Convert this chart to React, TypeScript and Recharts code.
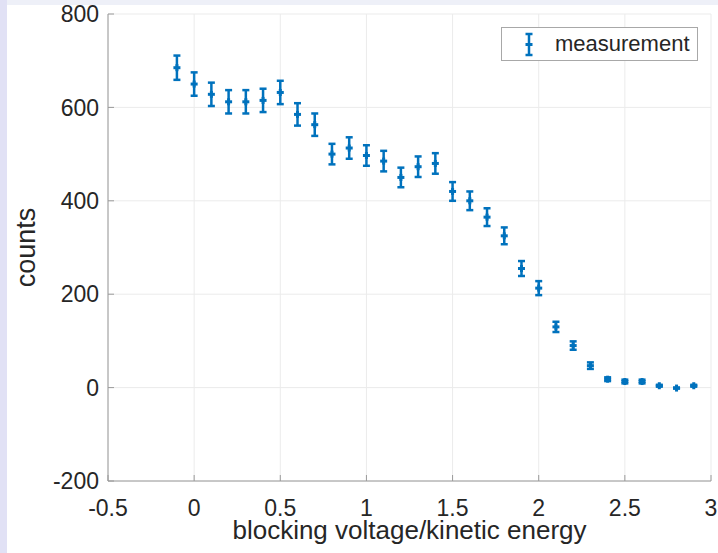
import { ScatterChart, Scatter, XAxis, YAxis, CartesianGrid, ErrorBar, Legend } from "recharts"

const voltage = [
  -0.1, 0, 0.1, 0.2, 0.3, 0.4, 0.5, 0.6, 0.7, 0.8, 0.9, 1.0, 1.1, 1.2, 1.3, 1.4,
  1.5, 1.6, 1.7, 1.8, 1.9, 2.0, 2.1, 2.2, 2.3, 2.4, 2.5, 2.6, 2.7, 2.8, 2.9,
]
const counts = [
  685, 650, 628, 612, 612, 615, 632, 585, 563, 500, 513, 497, 485, 450, 473, 480,
  420, 400, 365, 325, 255, 213, 130, 90, 47, 18, 13, 13, 4, -1, 4,
]
const errors = [
  26, 25, 25, 25, 25, 25, 25, 24, 24, 22, 23, 22, 22, 21, 22, 22,
  20, 20, 19, 18, 16, 15, 11, 9, 7, 4, 4, 4, 2, 1, 2,
]
const xTicks = [-0.5, 0, 0.5, 1, 1.5, 2, 2.5, 3]
const yTicks = [-200, 0, 200, 400, 600, 800]

const data = voltage.map((v, i) => ({ v, c: counts[i], err: errors[i] }))

const BLUE = "#0072BD"
const TEXT = "#262626"
const FONT = "'Liberation Sans', Arial, sans-serif"

const Marker = (props: any) => {
  const { cx, cy } = props
  if (cx == null || cy == null) return <g />
  return (
    <g fill={BLUE}>
      <rect x={cx - 3.5} y={cy - 1.5} width={7} height={3} />
      <rect x={cx - 1.5} y={cy - 3.5} width={3} height={7} />
    </g>
  )
}

const LegendBox = () => (
  <div
    style={{
      width: 195,
      height: 32,
      border: "1px solid #a8a8a8",
      background: "#fff",
      display: "flex",
      alignItems: "center",
      fontFamily: FONT,
      fontSize: 22,
      color: TEXT,
    }}
  >
    <svg width={52} height={32}>
      <g stroke={BLUE} strokeWidth={2.5}>
        <line x1={27} y1={6} x2={27} y2={27} />
        <line x1={23.5} y1={6} x2={30.5} y2={6} />
        <line x1={23.5} y1={27} x2={30.5} y2={27} />
      </g>
      <rect x={23.5} y={15} width={7} height={3} fill={BLUE} />
    </svg>
    <span style={{ marginLeft: 1 }}>measurement</span>
  </div>
)

export default function App() {
  return (
    <div style={{ position: "absolute", left: 0, top: 0, width: 718, height: 553, background: "#eef0f8" }}>
      <div style={{ position: "absolute", left: 0, top: 0, width: 7, height: 553, background: "#e1e1f5" }} />
      <div style={{ position: "absolute", left: 7, top: 5, width: 711, height: 548, background: "#fff" }} />
      <div style={{ position: "absolute", left: 0, top: 0 }}>
        <ScatterChart width={718} height={553} margin={{ top: 14, right: 7, bottom: 0, left: 8 }}>
          <CartesianGrid stroke="#ebebeb" strokeWidth={1} />
          <XAxis
            type="number"
            dataKey="v"
            domain={[-0.5, 3]}
            ticks={xTicks}
            height={72}
            tickSize={-6}
            tickMargin={25}
            stroke="#9a9a9a"
            tick={{ fill: TEXT, fontSize: 23, fontFamily: FONT }}
            tickFormatter={(t: number) => String(t)}
            label={{
              value: "blocking voltage/kinetic energy",
              position: "insideBottom",
              offset: 14,
              style: { fill: TEXT, fontSize: 26, fontFamily: FONT },
            }}
          />
          <XAxis
            xAxisId="top"
            orientation="top"
            type="number"
            dataKey="v"
            domain={[-0.5, 3]}
            ticks={xTicks}
            height={0}
            tickSize={-6}
            stroke="#9a9a9a"
            tickFormatter={() => ""}
          />
          <YAxis
            type="number"
            dataKey="c"
            domain={[-200, 800]}
            ticks={yTicks}
            width={100}
            tickSize={-6}
            tickMargin={15}
            stroke="#9a9a9a"
            tick={{ fill: TEXT, fontSize: 23, fontFamily: FONT }}
            label={{
              value: "counts",
              angle: -90,
              position: "insideLeft",
              offset: 17,
              style: { fill: TEXT, fontSize: 27, fontFamily: FONT, textAnchor: "middle" },
            }}
          />
          <YAxis
            yAxisId="right"
            orientation="right"
            type="number"
            dataKey="c"
            domain={[-200, 800]}
            ticks={yTicks}
            width={0}
            tickSize={-6}
            stroke="#9a9a9a"
            tickFormatter={() => ""}
          />
          <Legend
            verticalAlign="middle"
            align="center"
            layout="horizontal"
            content={() => <LegendBox />}
            wrapperStyle={{ left: 501, top: 27, right: "auto", bottom: "auto", width: 197, height: 34 }}
          />
          <Scatter name="measurement" data={data} fill={BLUE} shape={Marker} isAnimationActive={false}>
            <ErrorBar dataKey="err" direction="y" width={3.5} strokeWidth={2.5} stroke={BLUE} isAnimationActive={false} />
          </Scatter>
        </ScatterChart>
      </div>
    </div>
  )
}
